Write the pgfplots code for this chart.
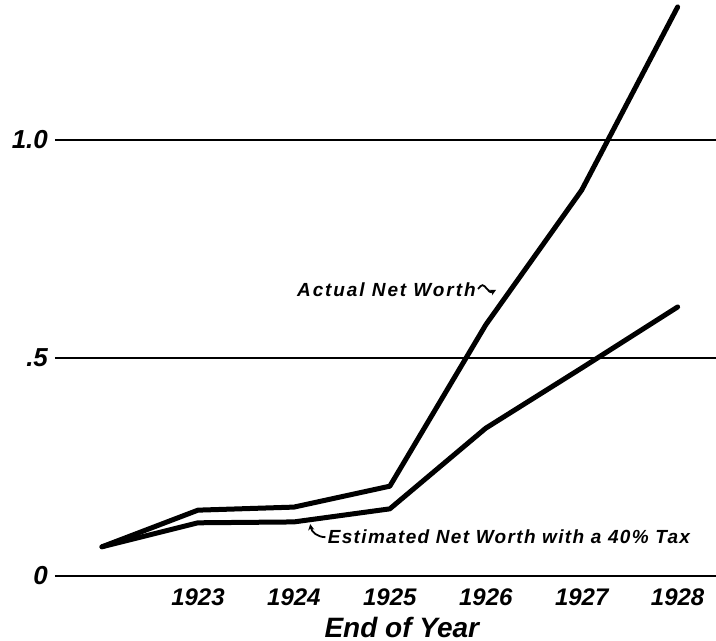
\documentclass[border=0pt]{standalone}
\usepackage{fontspec}
\setmainfont{Liberation Sans}
\usepackage{pgfplots}
\pgfplotsset{compat=1.18}
\usetikzlibrary{arrows.meta}
\newcommand\hand{\bfseries\itshape}
\begin{document}
\begin{tikzpicture}
\path[use as bounding box] (-27.5pt,-32.5pt) rectangle (330.5pt,288pt);
\begin{axis}[
  at={(0pt,0pt)}, anchor=south west,
  width=330.5pt, height=288pt, scale only axis,
  xmin=1921.51, xmax=1928.40,
  ymin=0, ymax=1.321,
  clip=false,
  axis line style={draw=none},
  tick style={draw=none},
  xtick={1923,1924,1925,1926,1927,1928},
  xticklabels={1923,1924,1925,1926,1927,1928},
  ytick={0.5,1},
  yticklabels={.5,1.0},
  extra y ticks={0},
  extra y tick labels={0},
  extra y tick style={grid=none},
  ymajorgrids,
  grid style={black, line width=0.9pt},
  x tick label style={font=\fontsize{12}{14}\selectfont\hand, yshift=-3pt},
  y tick label style={font=\fontsize{13}{15}\selectfont\hand},
]
\draw[black, line width=1.4pt] (axis cs:1921.51,0) -- (axis cs:1928.40,0);

% actual net worth
\addplot[black, line width=2.5pt, line join=round, line cap=round] coordinates {
  (1922,0.067) (1923,0.151) (1924,0.158) (1925,0.206)
  (1926,0.576) (1927,0.885) (1928,1.305)
};
% estimated net worth with a 40% tax
\addplot[black, line width=2.5pt, line join=round, line cap=round] coordinates {
  (1922,0.067) (1923,0.122) (1924,0.124) (1925,0.154)
  (1926,0.339) (1927,0.477) (1928,0.617)
};

\node[anchor=west, inner sep=0pt, font=\fontsize{9.5}{11}\selectfont\hand\addfontfeatures{LetterSpace=10}]
  (act) at (axis cs:1924.03,0.656) {Actual Net Worth};
\draw[line width=0.9pt, -{Stealth[length=3pt,width=3pt]}]
  ([xshift=1pt,yshift=0.5pt]act.east) .. controls +(2pt,2.5pt) and +(-2pt,2.5pt) .. +(4.5pt,0pt)
  .. controls +(2pt,-2.5pt) and +(-2pt,-1pt) .. +(9pt,-0.5pt);

\node[anchor=west, inner sep=0pt, font=\fontsize{9.5}{11}\selectfont\hand\addfontfeatures{LetterSpace=7}]
  (est) at (axis cs:1924.35,0.089) {Estimated Net Worth with a 40\% Tax};
\draw[line width=0.9pt, {Stealth[length=3pt,width=3pt]}-]
  (axis cs:1924.17,0.119) to[out=-80,in=180] ([xshift=-1pt]est.west);

\node[font=\fontsize{14}{16}\selectfont\hand] at (axis cs:1925.125,-0.118) {End of Year};
\end{axis}
\end{tikzpicture}
\end{document}
